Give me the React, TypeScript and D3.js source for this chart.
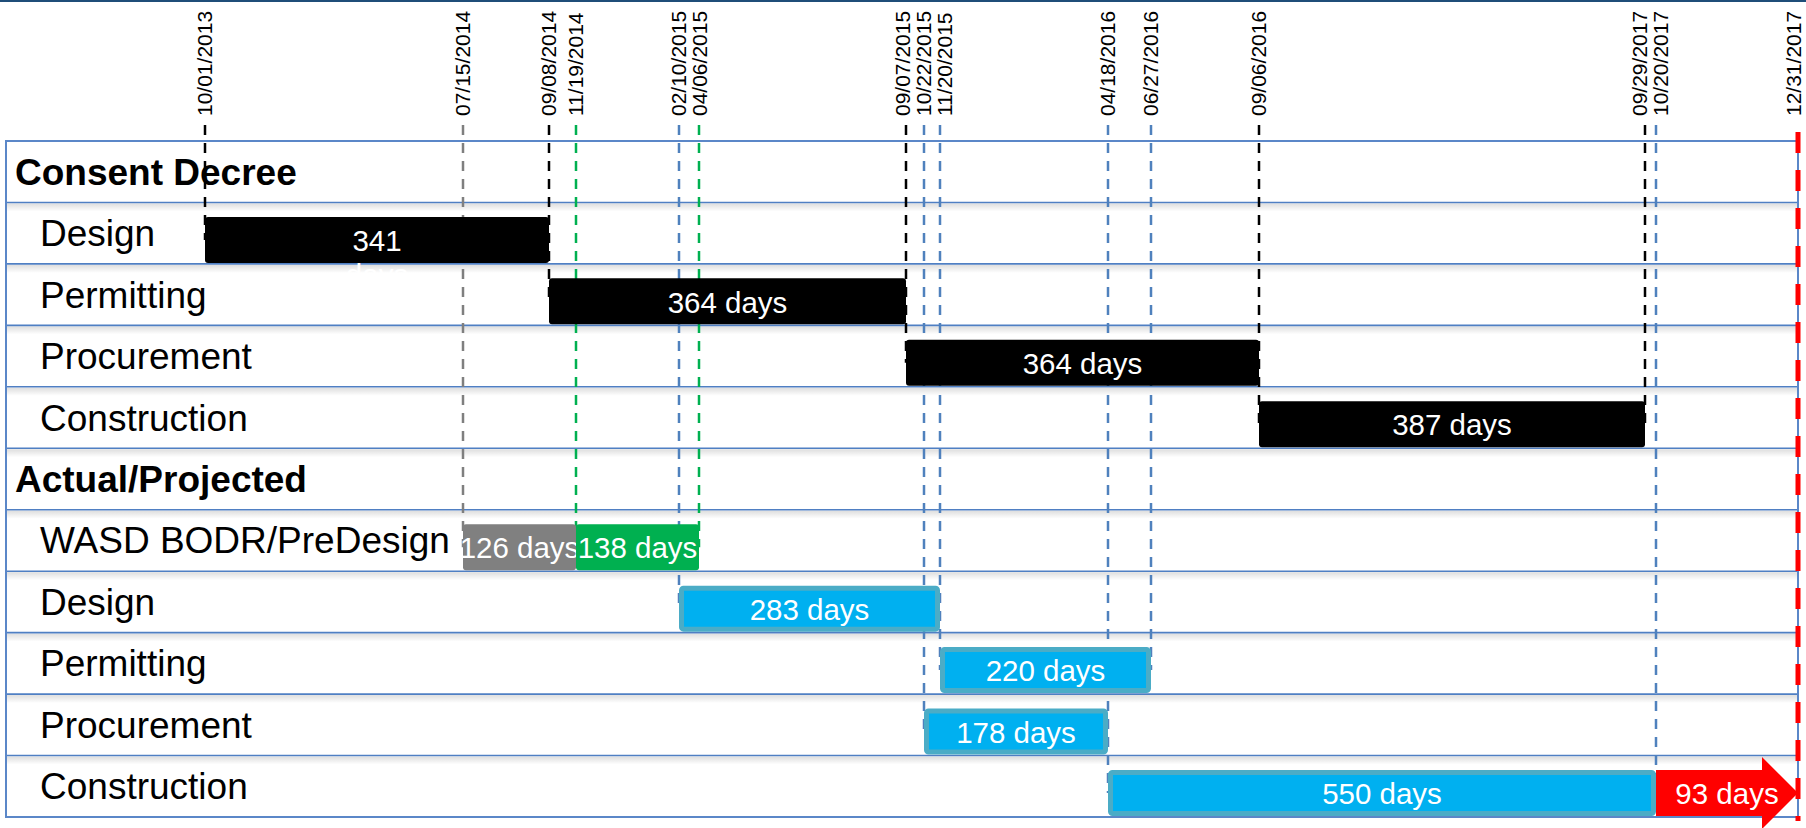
import { useEffect, useRef } from "react";
import * as d3 from "d3";

// Rows of the schedule, top to bottom.
const ROW_LABELS = [
  "Consent Decree",
  "Design",
  "Permitting",
  "Procurement",
  "Construction",
  "Actual/Projected",
  "WASD BODR/PreDesign",
  "Design",
  "Permitting",
  "Procurement",
  "Construction",
];
const ROW_HEADERS = [true, false, false, false, false, true, false, false, false, false, false];

// Milestone dates written along the top, and which series each belongs to.
const MILESTONES = [
  "10/01/2013",
  "07/15/2014",
  "09/08/2014",
  "11/19/2014",
  "02/10/2015",
  "04/06/2015",
  "09/07/2015",
  "10/22/2015",
  "11/20/2015",
  "04/18/2016",
  "06/27/2016",
  "09/06/2016",
  "09/29/2017",
  "10/20/2017",
  "12/31/2017",
];
const MILESTONE_KINDS = [
  "plan",
  "bodr",
  "plan",
  "predesign",
  "actual",
  "predesign",
  "plan",
  "actual",
  "actual",
  "actual",
  "actual",
  "plan",
  "plan",
  "actual",
  "deadline",
];

// Task bars.
const BAR_ROWS = [1, 2, 3, 4, 6, 6, 7, 8, 9, 10, 10];
const BAR_STARTS = [
  "10/01/2013",
  "09/08/2014",
  "09/07/2015",
  "09/06/2016",
  "07/15/2014",
  "11/19/2014",
  "02/10/2015",
  "11/20/2015",
  "10/22/2015",
  "04/18/2016",
  "10/20/2017",
];
const BAR_ENDS = [
  "09/08/2014",
  "09/07/2015",
  "09/06/2016",
  "09/29/2017",
  "11/19/2014",
  "04/06/2015",
  "11/20/2015",
  "06/27/2016",
  "04/18/2016",
  "10/20/2017",
  "12/31/2017",
];
const BAR_LABELS = [
  "341\ndays",
  "364 days",
  "364 days",
  "387 days",
  "126 days",
  "138 days",
  "283 days",
  "220 days",
  "178 days",
  "550 days",
  "93 days",
];
const BAR_KINDS = [
  "plan",
  "plan",
  "plan",
  "plan",
  "bodr",
  "predesign",
  "actual",
  "actual",
  "actual",
  "actual",
  "overrun",
];

// ---- layout / style ----
const W = 1806;
const H = 828;
// The slide's time axis is hand drawn and not uniform, so the scale is
// calibrated at every milestone (one stop per date above).
const AXIS_PX = [205, 463, 549, 576, 679, 699, 906, 924, 940, 1108, 1151, 1259, 1645, 1656, 1798];
const BOX = { left: 6, right: 1798, top: 141, bottom: 817 };
const BAR_H = 46;
const LABEL_GAP = 21; // min spacing between rotated date labels
const FONT = "'Liberation Sans', Arial, sans-serif";
const BLUE_RULE = "#4f7fc3";
const KIND_COLOR: Record<string, string> = {
  plan: "#000000",
  bodr: "#808080",
  predesign: "#00b050",
  actual: "#00b0f0",
  overrun: "#ff0000",
};
const LINE_COLOR: Record<string, string> = {
  plan: "#000000",
  bodr: "#7f7f7f",
  predesign: "#00b050",
  actual: "#4f81bd",
  deadline: "#ff0000",
};

export default function App() {
  const svgRef = useRef<SVGSVGElement | null>(null);

  useEffect(() => {
    const svg = d3.select(svgRef.current);
    svg.selectAll("*").remove();

    const parse = d3.timeParse("%m/%d/%Y");
    const x = d3
      .scaleTime<number>()
      .domain(MILESTONES.map((d) => parse(d) as Date))
      .range(AXIS_PX);
    const xs = (s: string) => x(parse(s) as Date);
    const y = d3
      .scaleBand<number>()
      .domain(d3.range(ROW_LABELS.length))
      .range([BOX.top, BOX.bottom]);
    const step = y.step();
    const barTop = (r: number) => (y(r) ?? 0) + step - BAR_H - 1;

    // Shadow under each row rule.
    const grad = svg
      .append("defs")
      .append("linearGradient")
      .attr("id", "ruleShadow")
      .attr("x1", 0)
      .attr("y1", 0)
      .attr("x2", 0)
      .attr("y2", 1);
    grad.append("stop").attr("offset", "0%").attr("stop-color", "#000").attr("stop-opacity", 0.13);
    grad.append("stop").attr("offset", "100%").attr("stop-color", "#000").attr("stop-opacity", 0);

    svg.append("rect").attr("width", W).attr("height", H).attr("fill", "#fff");
    // Slide border at the very top.
    svg.append("rect").attr("x", 0).attr("y", 0).attr("width", W).attr("height", 2).attr("fill", "#1f4e79");

    // Row rules.
    const rules = d3.range(1, ROW_LABELS.length).map((r) => y(r) ?? 0);
    svg
      .append("g")
      .selectAll("rect")
      .data(rules)
      .join("rect")
      .attr("x", BOX.left)
      .attr("y", (d) => d + 1)
      .attr("width", BOX.right - BOX.left)
      .attr("height", 8)
      .attr("fill", "url(#ruleShadow)");
    svg
      .append("g")
      .selectAll("line")
      .data(rules)
      .join("line")
      .attr("x1", BOX.left)
      .attr("x2", BOX.right)
      .attr("y1", (d) => d)
      .attr("y2", (d) => d)
      .attr("stroke", BLUE_RULE)
      .attr("stroke-width", 1.6);

    svg
      .append("rect")
      .attr("x", BOX.left)
      .attr("y", BOX.top)
      .attr("width", BOX.right - BOX.left)
      .attr("height", BOX.bottom - BOX.top)
      .attr("fill", "none")
      .attr("stroke", "#5b87c8")
      .attr("stroke-width", 2);

    // Row labels.
    svg
      .append("g")
      .selectAll("text")
      .data(ROW_LABELS)
      .join("text")
      .attr("x", (_, i) => (ROW_HEADERS[i] ? 15 : 40))
      .attr("y", (_, i) => (y(i) ?? 0) + step / 2 + 13)
      .attr("font-family", FONT)
      .attr("font-size", 37)
      .attr("font-weight", (_, i) => (ROW_HEADERS[i] ? "bold" : "normal"))
      .attr("fill", "#000")
      .text((d) => d);

    // Milestone leader lines (drawn beneath the bars).
    const lineEnd = (date: string, kind: string) => {
      if (kind === "deadline") return BOX.bottom + 4;
      const rows = BAR_ROWS.filter((_, i) => BAR_STARTS[i] === date || BAR_ENDS[i] === date);
      return barTop(d3.max(rows) ?? 0) + BAR_H / 2;
    };
    const leaders = svg.append("g");
    MILESTONES.forEach((date, i) => {
      const kind = MILESTONE_KINDS[i];
      if (kind === "deadline") return;
      leaders
        .append("line")
        .attr("x1", xs(date))
        .attr("x2", xs(date))
        .attr("y1", 125)
        .attr("y2", lineEnd(date, kind))
        .attr("stroke", LINE_COLOR[kind])
        .attr("stroke-width", 2.5)
        .attr("stroke-dasharray", "10 8");
    });

    // Date labels, rotated; crowded neighbours are nudged apart.
    const cx = MILESTONES.map(xs);
    for (let k = 0; k < 40; k++) {
      for (let i = 1; i < cx.length; i++) {
        const gap = cx[i] - cx[i - 1];
        if (gap < LABEL_GAP) {
          const push = (LABEL_GAP - gap) / 2;
          cx[i - 1] -= push;
          cx[i] += push;
        }
      }
    }
    cx[cx.length - 1] = Math.min(cx[cx.length - 1], W - 12);
    svg
      .append("g")
      .selectAll("text")
      .data(MILESTONES)
      .join("text")
      .attr("transform", (_, i) => `translate(${cx[i]},116) rotate(-90)`)
      .attr("dy", "0.35em")
      .attr("font-family", FONT)
      .attr("font-size", 21)
      .attr("fill", "#000")
      .text((d) => d);

    // Bars.
    const bars = svg.append("g");
    BAR_ROWS.forEach((row, i) => {
      const kind = BAR_KINDS[i];
      const x0 = xs(BAR_STARTS[i]);
      const x1 = xs(BAR_ENDS[i]);
      const top = barTop(row);
      if (kind === "overrun") {
        const head = 36;
        const over = 13;
        const mid = top + BAR_H / 2;
        const pts: [number, number][] = [
          [x0, top],
          [x1 - head, top],
          [x1 - head, top - over],
          [x1, mid],
          [x1 - head, top + BAR_H + over],
          [x1 - head, top + BAR_H],
          [x0, top + BAR_H],
        ];
        bars
          .append("path")
          .attr("d", (d3.line()(pts) ?? "") + "Z")
          .attr("fill", KIND_COLOR[kind]);
      } else if (kind === "actual") {
        bars
          .append("rect")
          .attr("x", x0 + 2.5)
          .attr("y", top + 2.5)
          .attr("width", x1 - x0 - 5)
          .attr("height", BAR_H - 5)
          .attr("rx", 2)
          .attr("fill", KIND_COLOR[kind])
          .attr("stroke", "#4bacc6")
          .attr("stroke-width", 5);
      } else {
        bars
          .append("rect")
          .attr("x", x0)
          .attr("y", top)
          .attr("width", x1 - x0)
          .attr("height", BAR_H)
          .attr("rx", 3)
          .attr("fill", KIND_COLOR[kind]);
      }
      const lines = BAR_LABELS[i].split("\n");
      const t = bars
        .append("text")
        .attr("x", (x0 + x1) / 2)
        .attr("y", top + BAR_H / 2)
        .attr("text-anchor", "middle")
        .attr("font-family", FONT)
        .attr("font-size", 29.5)
        .attr("fill", "#fff");
      lines.forEach((ln, j) => {
        t.append("tspan")
          .attr("x", (x0 + x1) / 2)
          .attr("dy", j === 0 ? "0.38em" : "1.15em")
          .text(ln);
      });
    });

    // Deadline line on top.
    MILESTONES.forEach((date, i) => {
      const kind = MILESTONE_KINDS[i];
      if (kind !== "deadline") return;
      svg
        .append("line")
        .attr("x1", xs(date))
        .attr("x2", xs(date))
        .attr("y1", 132)
        .attr("y2", lineEnd(date, kind))
        .attr("stroke", LINE_COLOR[kind])
        .attr("stroke-width", 5)
        .attr("stroke-dasharray", "21 17");
    });
  }, []);

  return (
    <svg
      ref={svgRef}
      width={W}
      height={H}
      viewBox={`0 0 ${W} ${H}`}
      style={{ position: "absolute", left: 0, top: 0, display: "block" }}
    />
  );
}
